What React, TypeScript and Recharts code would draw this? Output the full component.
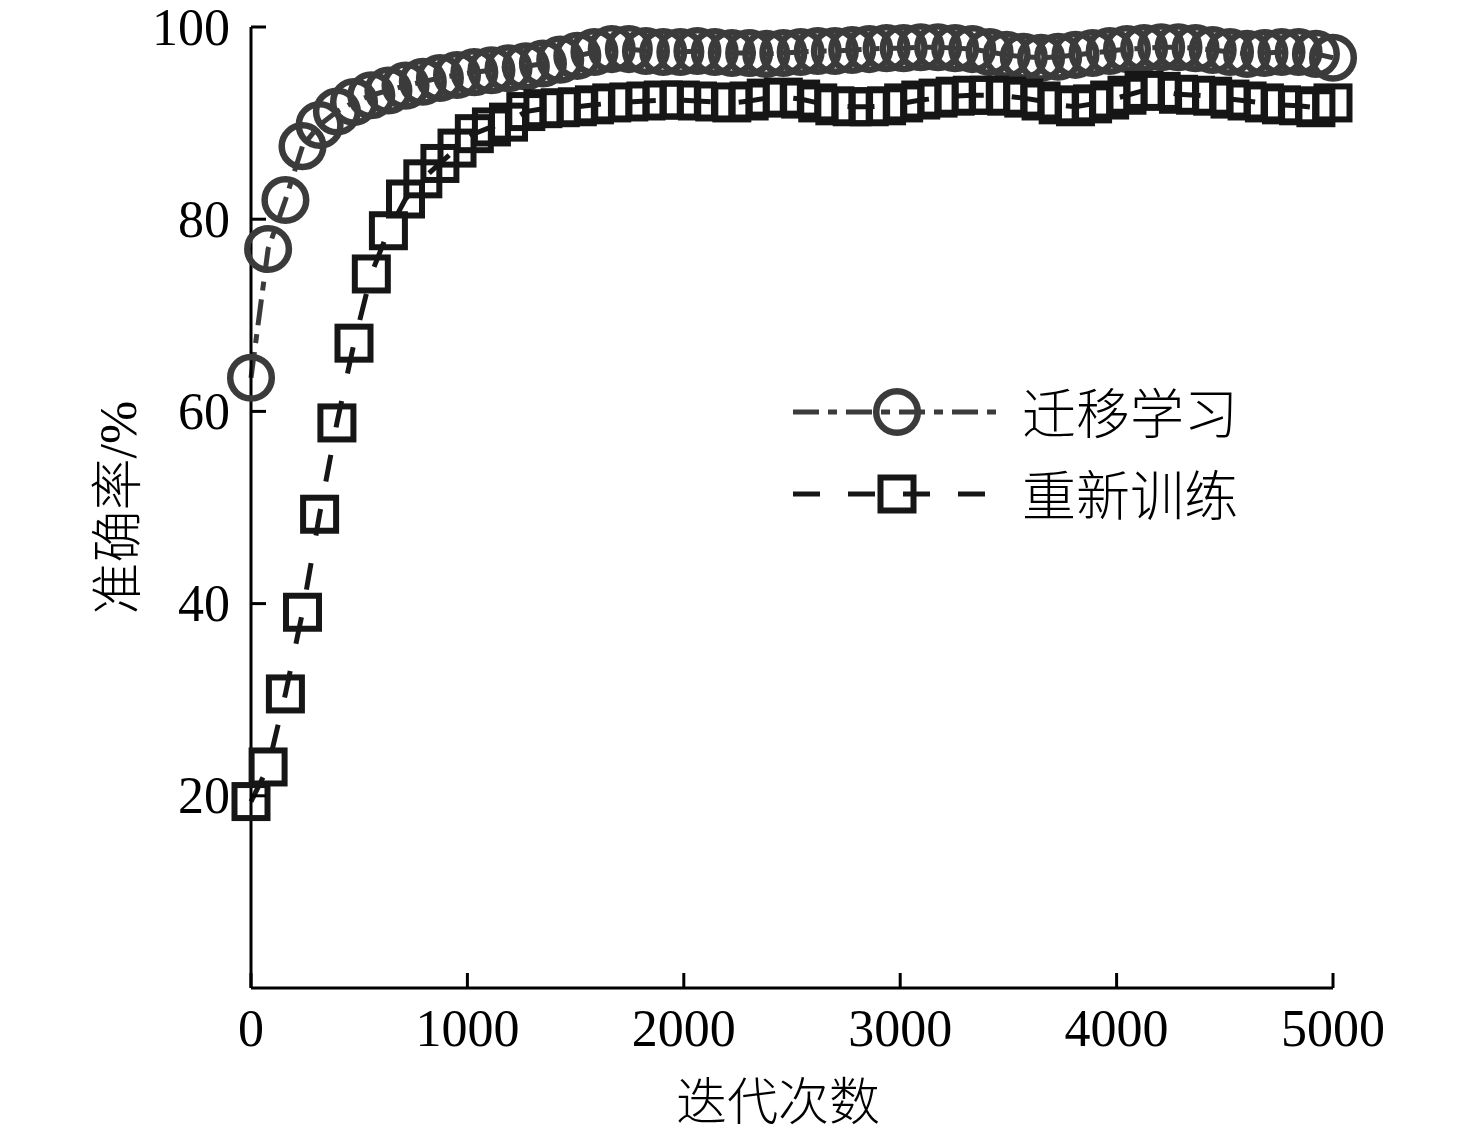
import React from 'react';
import { LineChart, Line, XAxis, YAxis, Legend } from 'recharts';

// ---- data ----
const iterations = [
  0, 79, 159, 238, 317, 397, 476, 556, 635, 714,
  794, 873, 952, 1032, 1111, 1190, 1270, 1349, 1429, 1508,
  1587, 1667, 1746, 1825, 1905, 1984, 2063, 2143, 2222, 2302,
  2381, 2460, 2540, 2619, 2698, 2778, 2857, 2937, 3016, 3095,
  3175, 3254, 3333, 3413, 3492, 3571, 3651, 3730, 3810, 3889,
  3968, 4048, 4127, 4206, 4286, 4365, 4444, 4524, 4603, 4683,
  4762, 4841, 4921, 5000,
];

const transferAcc = [
  63.5, 76.9, 82.0, 87.6, 89.8, 91.2, 92.2, 92.9, 93.4, 93.9,
  94.3, 94.7, 95.0, 95.3, 95.5, 95.7, 95.9, 96.2, 96.6, 97.0,
  97.4, 97.7, 97.7, 97.5, 97.4, 97.4, 97.5, 97.4, 97.3, 97.3,
  97.2, 97.3, 97.4, 97.5, 97.5, 97.6, 97.7, 97.8, 97.8, 97.9,
  97.9, 97.8, 97.7, 97.4, 97.1, 96.9, 96.8, 96.9, 97.1, 97.3,
  97.5, 97.7, 97.8, 97.9, 97.9, 97.8, 97.6, 97.4, 97.2, 97.3,
  97.4, 97.4, 97.2, 96.8,
];

const retrainAcc = [
  19.4, 23.0, 30.6, 39.1, 49.3, 58.8, 67.1, 74.3, 78.8, 82.1,
  84.2, 85.8, 87.4, 88.9, 89.6, 90.1, 91.2, 91.5, 91.6, 91.7,
  91.9, 92.1, 92.2, 92.3, 92.4, 92.4, 92.3, 92.2, 92.1, 92.3,
  92.6, 92.7, 92.5, 92.1, 91.8, 91.7, 91.7, 91.8, 92.1, 92.4,
  92.6, 92.8, 92.9, 92.9, 92.8, 92.6, 92.3, 91.9, 91.7, 92.0,
  92.4, 92.9, 93.4, 93.3, 93.0, 92.9, 92.8, 92.5, 92.3, 92.1,
  91.9, 91.8, 91.6, 92.1,
];

const xTicks = [0, 1000, 2000, 3000, 4000, 5000];
const yTicks = [20, 40, 60, 80, 100];
const seriesNames = ['迁移学习', '重新训练'];
const xTitle = '迭代次数';
const yTitle = '准确率/%';

const data = iterations.map((it, i) => ({
  it,
  transfer: transferAcc[i],
  retrain: retrainAcc[i],
}));

// ---- styles ----
const FONT = "'Liberation Serif', 'Noto Sans CJK SC', serif";
const CJK = "'Noto Sans CJK SC', 'Liberation Serif', sans-serif";
const C_TRANSFER = '#3b3b3b';
const C_RETRAIN = '#161616';
const DASH_TRANSFER = '26 9 9 9';
const DASH_RETRAIN = '27 28';
const CIRCLE_R = 20.8;
const SQUARE_HALF = 16.5;
const CIRCLE_SW = 6.5;
const SQUARE_SW = 6;
const LINE_SW = 5;
const TICK_LEN = 15;

const CircleDot = (props: any) => {
  const { cx, cy, index } = props;
  if (cx == null || cy == null) return <g key={`ce${index}`} />;
  return (
    <circle
      key={`c${index}`}
      cx={cx}
      cy={cy}
      r={CIRCLE_R}
      fill="none"
      stroke={C_TRANSFER}
      strokeWidth={CIRCLE_SW}
    />
  );
};

const SquareDot = (props: any) => {
  const { cx, cy, index } = props;
  if (cx == null || cy == null) return <g key={`se${index}`} />;
  return (
    <rect
      key={`s${index}`}
      x={cx - SQUARE_HALF}
      y={cy - SQUARE_HALF}
      width={SQUARE_HALF * 2}
      height={SQUARE_HALF * 2}
      fill="none"
      stroke={C_RETRAIN}
      strokeWidth={SQUARE_SW}
    />
  );
};

const XTick = (props: any) => {
  const { x, y, payload } = props;
  return (
    <g>
      <line x1={x} y1={y} x2={x} y2={y - TICK_LEN} stroke="#000" strokeWidth={3} />
      <text
        x={x}
        y={y + 40}
        textAnchor="middle"
        dominantBaseline="central"
        fontFamily={FONT}
        fontSize={52}
        fill="#000"
      >
        {payload.value}
      </text>
    </g>
  );
};

const YTick = (props: any) => {
  const { x, y, payload } = props;
  return (
    <g>
      <line x1={x} y1={y} x2={x + TICK_LEN} y2={y} stroke="#000" strokeWidth={3} />
      <text
        x={x - 21}
        y={y}
        textAnchor="end"
        dominantBaseline="central"
        fontFamily={FONT}
        fontSize={52}
        fill="#000"
      >
        {payload.value}
      </text>
    </g>
  );
};

const XTitle = (props: any) => {
  const vb = props.viewBox || {};
  return (
    <text
      x={vb.x + vb.width / 2 - 14}
      y={vb.y + 110}
      textAnchor="middle"
      dominantBaseline="central"
      fontFamily={CJK}
      fontWeight={300}
      fontSize={51}
      fill="#000"
    >
      {xTitle}
    </text>
  );
};

const YTitle = (props: any) => {
  const vb = props.viewBox || {};
  const cx = vb.x + 110;
  const cy = vb.y + vb.height / 2;
  return (
    <text
      x={cx}
      y={cy}
      transform={`rotate(-90 ${cx} ${cy})`}
      textAnchor="middle"
      dominantBaseline="central"
      fontFamily={FONT}
      fontWeight={300}
      fontSize={52}
      fill="#000"
    >
      {yTitle}
    </text>
  );
};

const LegendContent = () => {
  const rows = [
    { name: seriesNames[0], color: C_TRANSFER, dash: DASH_TRANSFER, kind: 'circle', y: 42 },
    { name: seriesNames[1], color: C_RETRAIN, dash: DASH_RETRAIN, kind: 'square', y: 124 },
  ];
  return (
    <svg width={480} height={170}>
      {rows.map((r) => (
        <g key={r.name}>
          <line
            x1={10}
            y1={r.y}
            x2={217}
            y2={r.y}
            stroke={r.color}
            strokeWidth={LINE_SW}
            strokeDasharray={r.dash}
          />
          {r.kind === 'circle' ? (
            <circle cx={114} cy={r.y} r={CIRCLE_R} fill="none" stroke={r.color} strokeWidth={CIRCLE_SW} />
          ) : (
            <rect
              x={114 - SQUARE_HALF}
              y={r.y - SQUARE_HALF}
              width={SQUARE_HALF * 2}
              height={SQUARE_HALF * 2}
              fill="none"
              stroke={r.color}
              strokeWidth={SQUARE_SW}
            />
          )}
          <text
            x={239}
            y={r.y - 2}
            dominantBaseline="central"
            fontFamily={CJK}
            fontWeight={300}
            fontSize={54}
            fill="#000"
          >
            {r.name}
          </text>
        </g>
      ))}
    </svg>
  );
}

export default function App() {
  return (
    <div style={{ width: 1460, height: 1134, marginTop: -8, background: '#fff' }}>
      <LineChart
        width={1460}
        height={1134}
        data={data}
        style={{ overflow: 'visible' }}
        margin={{ top: 27, right: 135, bottom: 0, left: 0 }}
      >
        <XAxis
          dataKey="it"
          type="number"
          domain={[0, 5000]}
          ticks={xTicks}
          interval={0}
          height={146}
          tickSize={0}
          tickMargin={0}
          tickLine={false}
          axisLine={{ stroke: '#000', strokeWidth: 3 }}
          tick={<XTick />}
          label={<XTitle />}
        />
        <YAxis
          type="number"
          domain={[0, 100]}
          ticks={yTicks}
          interval={0}
          width={243}
          tickSize={0}
          tickMargin={0}
          tickLine={false}
          axisLine={{ stroke: '#000', strokeWidth: 3 }}
          tick={<YTick />}
          label={<YTitle />}
        />
        <Legend
          layout="vertical"
          align="center"
          verticalAlign="middle"
          wrapperStyle={{ left: 775, top: 370, width: 480, height: 170 }}
          content={<LegendContent />}
        />
        <Line
          type="linear"
          dataKey="transfer"
          name={seriesNames[0]}
          stroke={C_TRANSFER}
          strokeWidth={LINE_SW}
          strokeDasharray={DASH_TRANSFER}
          dot={CircleDot}
          activeDot={false}
          isAnimationActive={false}
        />
        <Line
          type="linear"
          dataKey="retrain"
          name={seriesNames[1]}
          stroke={C_RETRAIN}
          strokeWidth={LINE_SW}
          strokeDasharray={DASH_RETRAIN}
          dot={SquareDot}
          activeDot={false}
          isAnimationActive={false}
        />
      </LineChart>
    </div>
  );
}
